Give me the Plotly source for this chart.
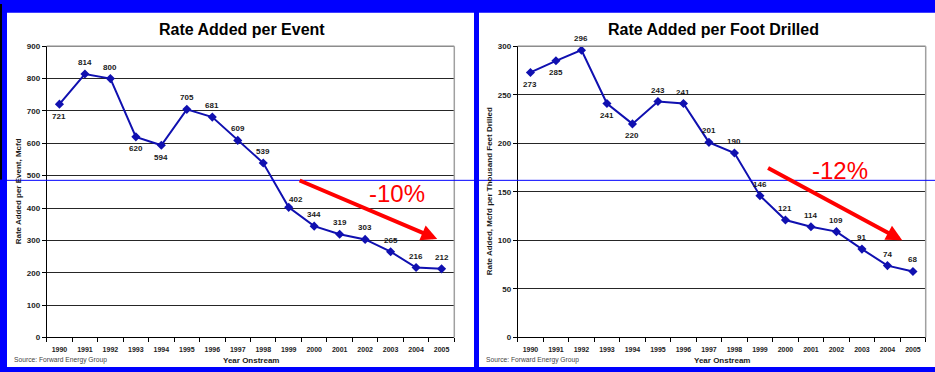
import plotly.graph_objects as go

# ---------------- data ----------------
YEARS = [str(y) for y in range(1990, 2006)]
RATE_PER_EVENT = [721, 814, 800, 620, 594, 705, 681, 609, 539, 402, 344, 319, 303, 265, 216, 212]
RATE_PER_FOOT = [273, 285, 296, 241, 220, 243, 241, 201, 190, 146, 121, 114, 109, 91, 74, 68]
EVENT_LABEL_SIDE = ["below", "above", "above", "below", "below", "above", "above", "above",
                    "above", "aboveright", "above", "above", "above", "above", "above", "above"]
FOOT_LABEL_SIDE = ["below", "below", "above", "below", "below", "above", "above", "above",
                   "above", "above", "above", "above", "above", "above", "above", "above"]
TITLES = ["Rate Added per Event", "Rate Added per Foot Drilled"]
Y_TITLES = ["Rate Added per Event, Mcfd", "Rate Added, Mcfd per Thousand Feet Drilled"]
X_TITLE = "Year Onstream"
SOURCE = "Source: Forward Energy Group"
TRENDS = ["-10%", "-12%"]
# trend arrows in data coordinates (category index, value): start -> tip
ARROW_EVENT = dict(ax=9.37, ay=487, x=14.83, y=304)
ARROW_FOOT = dict(ax=9.26, ay=175.5, x=14.58, y=100)
TREND_TEXT_POS = [dict(x=13.25, y=445), dict(x=12.14, y=172)]

W, H = 935, 372
FONT = "Liberation Sans, Arial, sans-serif"
LINE_BLUE = "#1010B0"
BG_BLUE = "#0000FF"

fig = go.Figure()
fig.add_trace(go.Scatter(x=YEARS, y=RATE_PER_EVENT, mode="lines+markers",
                         line=dict(color=LINE_BLUE, width=2),
                         marker=dict(symbol="diamond", size=7, color=LINE_BLUE),
                         xaxis="x", yaxis="y", hoverinfo="x+y"))
fig.add_trace(go.Scatter(x=YEARS, y=RATE_PER_FOOT, mode="lines+markers",
                         line=dict(color=LINE_BLUE, width=2),
                         marker=dict(symbol="diamond", size=7, color=LINE_BLUE),
                         xaxis="x2", yaxis="y2", hoverinfo="x+y"))

def px(xp):
    return xp / W

def py(yp):
    return 1 - yp / H

dom_y = [py(341.7), py(43.3)]
dom_x1 = [px(46.7), px(454.3)]
dom_x2 = [px(517.7), px(925.7)]

axis_common = dict(showline=True, linecolor="black", linewidth=1, ticks="outside",
                   ticklen=4, tickcolor="black", tickwidth=1)
xcommon = dict(type="category", range=[-0.5, 15.5], tickson="boundaries", showgrid=False,
               tickfont=dict(family=FONT, size=7, color="#222", weight="bold"),
               ticklabelstandoff=5, fixedrange=True, **axis_common)
ycommon = dict(showgrid=True, gridcolor="#262626", gridwidth=1.2, zeroline=False,
               tickfont=dict(family=FONT, size=8, color="#222", weight="bold"),
               fixedrange=True, **axis_common)

fig.update_layout(
    width=W, height=H, autosize=False,
    margin=dict(l=0, r=0, t=0, b=0, pad=0),
    paper_bgcolor=BG_BLUE, plot_bgcolor="white",
    showlegend=False,
    font=dict(family=FONT),
    xaxis=dict(domain=dom_x1, anchor="y", **xcommon),
    yaxis=dict(domain=dom_y, anchor="x", range=[0, 900], dtick=100, **ycommon),
    xaxis2=dict(domain=dom_x2, anchor="y2", **xcommon),
    yaxis2=dict(domain=dom_y, anchor="x2", range=[0, 300], dtick=50, **ycommon),
)

shapes = [
    # white panels
    dict(type="rect", xref="paper", yref="paper", x0=px(7), x1=px(474), y0=0, y1=py(9),
         fillcolor="white", line=dict(width=0), layer="below"),
    dict(type="rect", xref="paper", yref="paper", x0=px(479), x1=1, y0=0, y1=py(9),
         fillcolor="white", line=dict(width=0), layer="below"),
    dict(type="rect", xref="paper", yref="paper", x0=0, x1=px(2), y0=py(180), y1=1,
         fillcolor="black", line=dict(width=0), layer="below"),
]
# gray plot-area top/right borders
for xr, yr in (("x", "y"), ("x2", "y2")):
    shapes.append(dict(type="line", xref=f"{xr} domain", yref=f"{yr} domain",
                       x0=0, x1=1, y0=1, y1=1, line=dict(color="#8c8c8c", width=1.5), layer="above"))
    shapes.append(dict(type="line", xref=f"{xr} domain", yref=f"{yr} domain",
                       x0=1, x1=1, y0=0, y1=1, line=dict(color="#a0a0a0", width=1.5), layer="above"))
# thin blue horizontal line across the picture
shapes.append(dict(type="line", xref="paper", yref="paper", x0=0, x1=1, y0=py(180.7), y1=py(180.7),
                   line=dict(color=BG_BLUE, width=1), layer="above"))
fig.update_layout(shapes=shapes)

ann = []
label_font = dict(family=FONT, size=8, color="#1a1a1a", weight="bold")
for vals, sides, xr, yr in ((RATE_PER_EVENT, EVENT_LABEL_SIDE, "x", "y"),
                            (RATE_PER_FOOT, FOOT_LABEL_SIDE, "x2", "y2")):
    for i, (v, s) in enumerate(zip(vals, sides)):
        if s == "below":
            xs, ys = 0, -12
        elif s == "aboveright":
            xs, ys = 7, 8
        else:
            xs, ys = 0, 11.5
        ann.append(dict(x=i, y=v, xref=xr, yref=yr, text=str(v), showarrow=False,
                        xshift=xs, yshift=ys, font=label_font))

# titles
for k, cx in enumerate((241.5, 713)):
    ann.append(dict(x=px(cx), y=py(26), xref="paper", yref="paper", text=f"<b>{TITLES[k]}</b>",
                    showarrow=False, font=dict(family=FONT, size=16, color="black"),
                    xanchor="center", yanchor="middle"))
# y titles
for k, cx in enumerate((18.5, 489.5)):
    ann.append(dict(x=px(cx), y=py(192.5), xref="paper", yref="paper", text=f"<b>{Y_TITLES[k]}</b>",
                    showarrow=False, textangle=-90, font=dict(family=FONT, size=8, color="#1a1a1a"),
                    xanchor="center", yanchor="middle"))
# x titles
for cx in (250.5, 722):
    ann.append(dict(x=px(cx), y=py(365), xref="paper", yref="paper", text=f"<b>{X_TITLE}</b>",
                    showarrow=False, font=dict(family=FONT, size=8, color="#1a1a1a"),
                    xanchor="center", yanchor="middle"))
# source
for lx in (11.5, 483.5):
    ann.append(dict(x=px(lx), y=py(365), xref="paper", yref="paper", text=SOURCE,
                    showarrow=False, font=dict(family=FONT, size=6.7, color="#444"),
                    xanchor="left", yanchor="middle"))
# trend arrows
for arr, xr, yr in ((ARROW_EVENT, "x", "y"), (ARROW_FOOT, "x2", "y2")):
    ann.append(dict(x=arr["x"], y=arr["y"], ax=arr["ax"], ay=arr["ay"], xref=xr, yref=yr,
                    axref=xr, ayref=yr, text="", showarrow=True, arrowhead=2, arrowsize=0.8,
                    arrowwidth=4, arrowcolor="#FF0000", standoff=0, startstandoff=0))
for k, (pos, xr, yr) in enumerate(zip(TREND_TEXT_POS, ("x", "x2"), ("y", "y2"))):
    ann.append(dict(x=pos["x"], y=pos["y"], xref=xr, yref=yr, text=TRENDS[k], showarrow=False,
                    font=dict(family=FONT, size=24, color="#FF0000"),
                    xanchor="center", yanchor="middle"))

fig.update_layout(annotations=ann)
fig.write_html("out.html")
